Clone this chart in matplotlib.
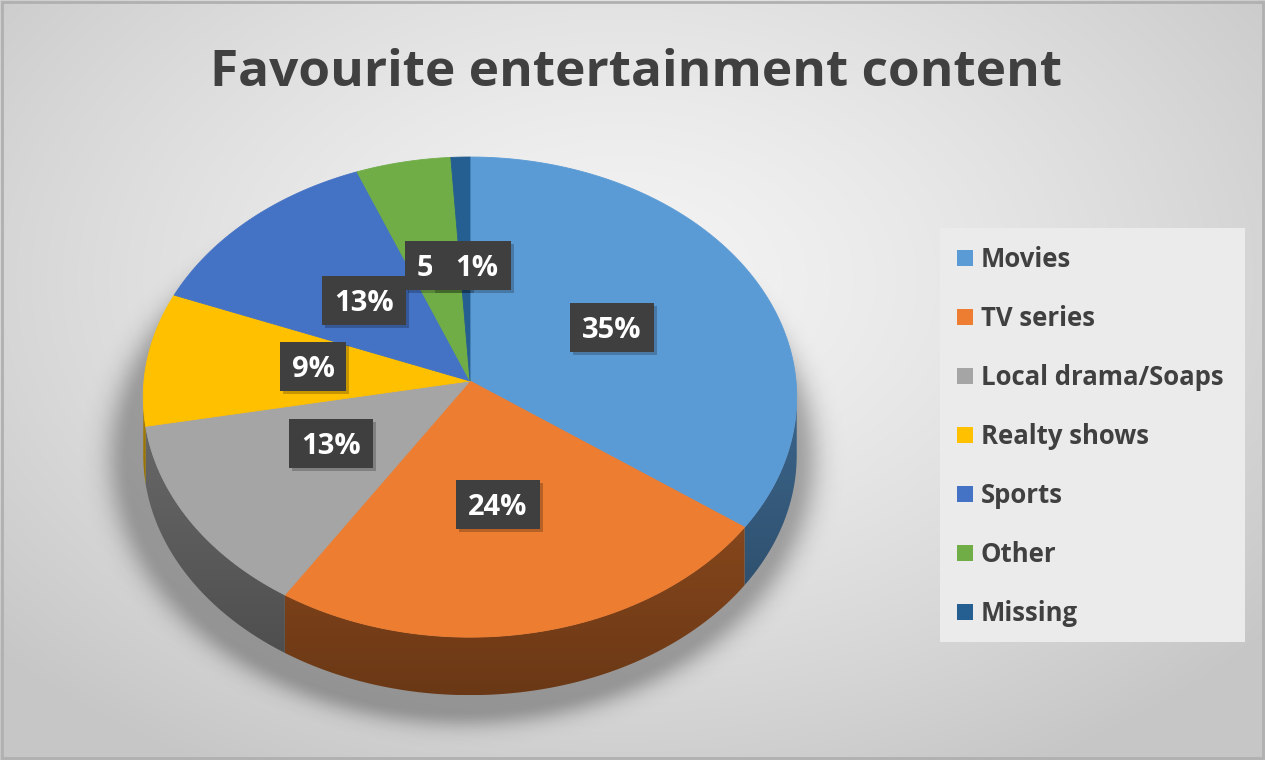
import numpy as np
import matplotlib.pyplot as plt
from matplotlib.patches import Polygon, Rectangle
from matplotlib.colors import to_rgb

categories = ["Movies", "TV series", "Local drama/Soaps", "Realty shows",
              "Sports", "Other", "Missing"]
shares = [35, 24, 13, 9, 13, 5, 1]
colors = ["#5B9BD5", "#ED7D31", "#A5A5A5", "#FFC000", "#4472C4", "#70AD47", "#255E91"]
title = "Favourite entertainment content"

W, H = 1265, 760
FONT = "Open Sans"
TEXT_COLOR = "#404040"

# disc seen in perspective: centre on screen, half-axes, foreshortening
AX, AY = 470, 381
A, B = 326, 239
K = 0.067
DEPTH = 58

# label anchors (pixel centres), same order as categories
label_pos = [(612, 328), (498, 505), (331, 444), (313, 367),
             (364, 301), (438, 266), (477, 266)]


def rim(phi_deg):
    t = np.radians(phi_deg)
    u, v = np.cos(t), np.sin(t)
    d = 1 - K * v
    return AX + A * u / d, AY + B * v / d


def darker(c, f):
    r, g, b = to_rgb(c)
    return (r * f, g * f, b * f)


fig = plt.figure(figsize=(W / 100, H / 100), dpi=100)
ax = fig.add_axes([0, 0, 1, 1])
ax.set_xlim(0, W)
ax.set_ylim(H, 0)
ax.axis("off")

# radial grey background
yy, xx = np.mgrid[0:H, 0:W]
rr = np.sqrt(((xx - 620) / 780) ** 2 + ((yy - 280) / 520) ** 2)
shade = np.clip(0.955 - 0.16 * rr ** 1.4, 0.78, 0.96)
ax.imshow(np.dstack([shade] * 3), extent=(0, W, H, 0), zorder=0, interpolation="bilinear")
ax.add_patch(Rectangle((1.5, 1.5), W - 4, H - 4, fill=False, ec="#b0b0b0", lw=2, zorder=1))

# soft shadow under the disc
en = np.sqrt(((xx - (AX - 8)) / (A + 8)) ** 2 + ((yy - (AY + 18 + DEPTH)) / (B + 14)) ** 2)
alpha = 0.30 * np.exp(-(np.clip(en - 1, 0, None) / 0.07) ** 2)
alpha[en < 1] = 0.30
shadow = np.zeros((H, W, 4))
shadow[..., 3] = alpha
ax.imshow(shadow, extent=(0, W, H, 0), zorder=2, interpolation="bilinear")

# slice angles, clockwise from 12 o'clock (screen y points down)
bounds = -90 + 360 * np.concatenate([[0], np.cumsum(shares)]) / sum(shares)

# side walls, only between the two silhouette tangent points
tang = np.degrees(np.arcsin(K))
grad = np.linspace(0, 1, 200)[:, None]
y_top = AY
y_bot = AY + B / (1 - K) + DEPTH
for i, c in enumerate(colors):
    a, b = max(bounds[i], tang), min(bounds[i + 1], 180 - tang)
    if b <= a:
        continue
    th = np.linspace(a, b, 80)
    tx, ty = rim(th)
    pts = np.column_stack([np.r_[tx, tx[::-1]], np.r_[ty, ty[::-1] + DEPTH]])
    poly = Polygon(pts, closed=True, fc="none", ec="none", zorder=3)
    ax.add_patch(poly)
    top, bot = np.array(darker(c, 0.66)), np.array(darker(c, 0.45))
    img = top + (bot - top) * grad[..., None]
    im = ax.imshow(np.repeat(img, 2, axis=1), extent=(0, W, y_bot, y_top),
                   zorder=3, aspect="auto", interpolation="bilinear")
    im.set_clip_path(poly)

# top faces
for i, c in enumerate(colors):
    th = np.linspace(bounds[i], bounds[i + 1], 120)
    tx, ty = rim(th)
    pts = np.column_stack([np.r_[AX, tx], np.r_[AY, ty]])
    ax.add_patch(Polygon(pts, closed=True, fc=c, ec=c, lw=0.6, zorder=4))

# data labels in dark boxes; a box sitting on the previous one on the same
# row hides everything of it after the number
fig.canvas.draw()
renderer = fig.canvas.get_renderer()
inv = ax.transData.inverted()
prev = None
for i, (v, (x, y)) in enumerate(zip(shares, label_pos)):
    t = ax.text(x, y + 10, f"{v}%", ha="center", va="baseline", color="white",
                fontsize=21, fontweight="bold", family=FONT, zorder=11 + 2 * i)
    bb = t.get_window_extent(renderer)
    (x0, _), (x1, _) = inv.transform([[bb.x0, bb.y0], [bb.x1, bb.y1]])
    left, right = min(x0, x1) - 12, max(x0, x1) + 12
    top, bot = y - 25, y + 24
    if prev is not None and left < prev[1] and abs(prev[2] - y) < 5:
        num = ax.text(0, 0, str(prev[3]), fontsize=21, fontweight="bold", family=FONT)
        nb = num.get_window_extent(renderer)
        num.remove()
        left = min(left, prev[0] + nb.width - 1)
    ax.add_patch(Rectangle((left + 3, top + 3), right - left, bot - top,
                           fc="black", alpha=0.22, ec="none", zorder=10 + 2 * i))
    ax.add_patch(Rectangle((left, top), right - left, bot - top,
                           fc="#3f3f3f", ec="none", zorder=10 + 2 * i))
    prev = (min(x0, x1), right, y, v)

ax.text(636, 86, title, ha="center", va="baseline", fontsize=37, fontweight="bold",
        color=TEXT_COLOR, family=FONT, zorder=5)

# legend
ax.add_patch(Rectangle((940, 228), 305, 414, fc="#ebebeb", ec="none", zorder=5))
for i, (name, c) in enumerate(zip(categories, colors)):
    ry = 258 + 59 * i
    ax.add_patch(Rectangle((957, ry - 8), 16, 16, fc=c, ec="none", zorder=6))
    ax.text(981, ry + 9, name, ha="left", va="baseline", fontsize=18.5, fontweight="bold",
            color=TEXT_COLOR, family=FONT, zorder=6)

fig.savefig("out.png", dpi=100)
